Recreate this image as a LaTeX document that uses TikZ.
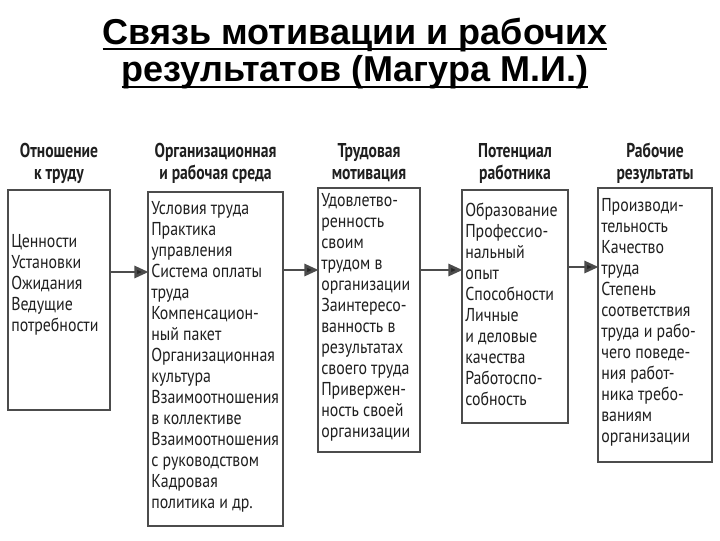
\documentclass[tikz,border=0pt]{standalone}
\usepackage{fontspec}
\setmainfont{Liberation Sans}
\newfontfamily\titlef{Liberation Sans}
\newfontfamily\bodyf[FakeStretch=0.85]{PT Sans}
\newfontfamily\headf[FakeStretch=0.78]{PT Sans}
\usetikzlibrary{arrows.meta,calc}
\definecolor{ink}{gray}{0.12}
\definecolor{edge}{gray}{0.3}
\tikzset{
  titlestyle/.style={inner sep=0pt, anchor=base, font=\titlef\bfseries\fontsize{27}{31}\selectfont, text=black},
  uline/.style={line width=2.2pt, black},
  headstyle/.style={inner sep=0pt, anchor=north, align=center, text=ink,
     font=\headf\bfseries\fontsize{15}{16.5}\selectfont},
  boxstyle/.style={draw=edge, line width=1.3pt, inner sep=0pt, fill=white},
  bodystyle/.style={inner sep=0pt, anchor=north west, align=left, text=ink,
     font=\bodyf\fontsize{14}{15.75}\selectfont},
  flow/.style={line width=2pt, draw=black!70, -{Triangle[length=10.5pt,width=9pt,fill=black!85]}, shorten >=-1pt}
}
\begin{document}
\begin{tikzpicture}[x=0.75pt,y=-0.75pt]
\useasboundingbox (0,0) rectangle (720,540);
% title
\node[titlestyle] (t1) at (355,44) {Связь мотивации и рабочих};
\node[titlestyle] (t2) at (355,81) {результатов (Магура М.И.)};
\draw[uline] ($(t1.base west)+(0,5)$) -- ($(t1.base east)+(0,5)$);
\draw[uline] ($(t2.base west)+(0,6)$) -- ($(t2.base east)+(0,6)$);
% boxes
\node[boxstyle, minimum width=102*0.75pt, minimum height=220*0.75pt] (b1) at (59,300) {};
\node[boxstyle, minimum width=135*0.75pt, minimum height=334*0.75pt] (b2) at (215.5,359) {};
\node[boxstyle, minimum width=102*0.75pt, minimum height=264*0.75pt] (b3) at (369,320) {};
\node[boxstyle, minimum width=106*0.75pt, minimum height=233*0.75pt] (b4) at (515,306.5) {};
\node[boxstyle, minimum width=114*0.75pt, minimum height=274*0.75pt] (b5) at (655,325) {};
% headers
\node[headstyle] (h1) at (59,143) {Отношение\\к труду};
\node[headstyle] (h2) at (215.5,143) {Организационная\\и рабочая среда};
\node[headstyle] (h3) at (369,143) {Трудовая\\мотивация};
\node[headstyle] (h4) at (515,143) {Потенциал\\работника};
\node[headstyle] (h5) at (655,143) {Рабочие\\результаты};
% body texts
\node[bodystyle] (x1) at (11,234) {Ценности\\Установки\\Ожидания\\Ведущие\\потребности};
\node[bodystyle] (x2) at (151,201) {Условия труда\\Практика\\управления\\Система оплаты\\труда\\Компенсацион-\\ный пакет\\Организационная\\культура\\Взаимоотношения\\в коллективе\\Взаимоотношения\\с руководством\\Кадровая\\политика и др.};
\node[bodystyle] (x3) at (321,193) {Удовлетво-\\ренность\\своим\\трудом в\\организации\\Заинтересо-\\ванность в\\результатах\\своего труда\\Привержен-\\ность своей\\организации};
\node[bodystyle] (x4) at (465,203) {Образование\\Профессио-\\нальный\\опыт\\Способности\\Личные\\и деловые\\качества\\Работоспо-\\собность};
\node[bodystyle] (x5) at (601,198) {Производи-\\тельность\\Качество\\труда\\Степень\\соответствия\\труда и рабо-\\чего поведе-\\ния работ-\\ника требо-\\ваниям\\организации};
% arrows
\draw[flow] (b1.east |- 0,272) -- (b2.west |- 0,272);
\draw[flow] (b2.east |- 0,270) -- (b3.west |- 0,270);
\draw[flow] (b3.east |- 0,270) -- (b4.west |- 0,270);
\draw[flow] (b4.east |- 0,267) -- (b5.west |- 0,267);
\end{tikzpicture}
\end{document}
